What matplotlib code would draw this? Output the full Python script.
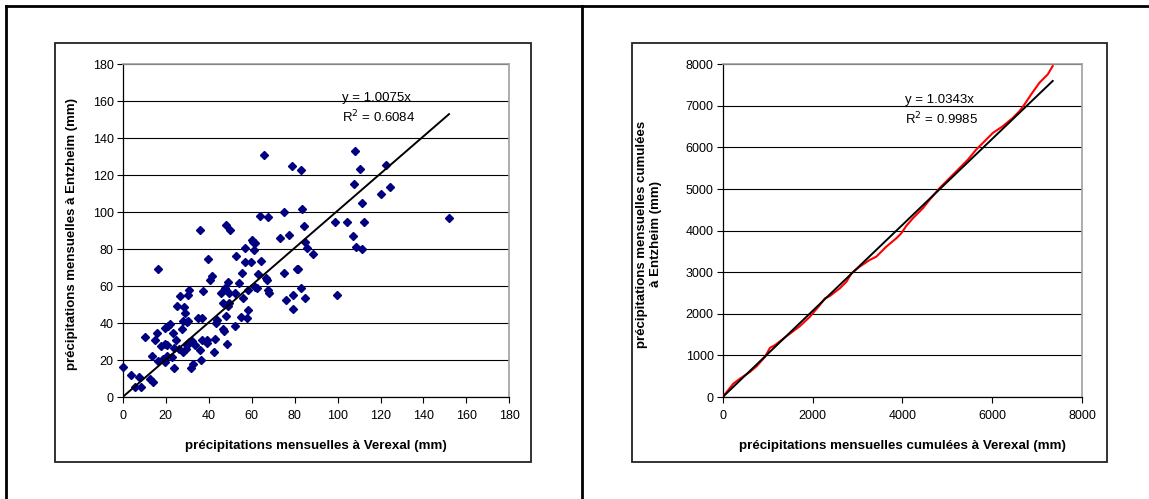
import matplotlib
matplotlib.use('Agg')
import matplotlib.pyplot as plt
import numpy as np
from matplotlib.patches import Rectangle
from matplotlib.lines import Line2D

plt.rcParams['font.family'] = ['Liberation Sans', 'DejaVu Sans']

# monthly precipitation (mm), Verexal vs Entzheim
verexal = [0, 3.7, 7.5, 5.9, 8.7, 10.5, 12.8, 13.9, 13.5, 15.1, 15.8, 16.2, 16.4, 17.8,
           18.9, 19.8, 19.9, 19.8, 20.7, 20.7, 21.9, 21.0, 22.8, 23.3, 23.7, 24.6, 23.9,
           25.3, 26.5, 26.0, 27.6, 28.5, 28.8, 27.9, 28.1, 29.4, 29.7, 30.8, 30.6, 30.6,
           30.1, 31.0, 31.7, 32.9, 32.4, 33.6, 35.8, 35.1, 36.3, 36.1, 37.2, 37.0, 37.0,
           39.2, 39.3, 39.5, 40.8, 41.5, 42.4, 43.1, 43.6, 44.1, 45.6, 46.6, 46.8, 47.0,
           47.4, 48.0, 48.0, 48.4, 48.8, 49.1, 49.5, 49.8, 49.5, 52.2, 52.9, 52.5, 54.1,
           55.2, 55.7, 55.9, 56.8, 57.1, 57.7, 58.2, 58.4, 59.6, 60.0, 60.5, 60.9, 61.6,
           61.4, 62.3, 62.8, 63.7, 64.3, 65.9, 66.6, 67.5, 67.3, 67.7, 68.2, 73.2, 75.0,
           75.3, 75.8, 77.3, 79.0, 79.2, 79.2, 81.0, 81.7, 82.8, 82.8, 83.3, 84.2, 84.9,
           84.9, 85.6, 88.7, 98.8, 99.9, 104.3, 107.2, 107.5, 108.1, 108.6, 110.4, 111.3,
           111.3, 112.3, 120.0, 122.5, 124.4, 151.9]
entzheim = [16, 12, 11, 5.5, 5.4, 32.5, 9.9, 8.1, 22.4, 31, 34.8, 69, 19.7, 27.8,
            20.8, 28.5, 37.6, 19, 28.3, 22.2, 39.4, 38.3, 21.8, 34.8, 15.9, 31, 26.4,
            49.1, 54.5, 26.2, 36.6, 48.6, 45.7, 41.2, 24.2, 26.2, 40.4, 58.1, 55.2, 41.2,
            28.3, 29.8, 15.9, 18.1, 30.3, 28, 90.6, 42.8, 20.2, 25.6, 57.6, 43, 31,
            29.2, 31, 74.6, 63.5, 65.7, 24.2, 31.6, 40.3, 41.9, 56, 50.9, 37, 35.6,
            58.9, 93.2, 43.7, 28.9, 62.3, 49.1, 56.1, 90.6, 50.9, 38.6, 76.2, 56, 61.9,
            43.1, 67.3, 53.3, 72.8, 80.5, 42.6, 46.8, 57.8, 73.3, 85.2, 83.9, 79.4, 83.4,
            59.6, 59.2, 66.3, 97.9, 73.8, 130.7, 64.5, 97.3, 63.2, 58.1, 56.5, 85.9, 67.2,
            100, 52.7, 87.9, 124.8, 55.4, 47.8, 69, 69, 122.8, 58.9, 101.6, 92.4, 53.8,
            83.6, 80.5, 77.6, 94.6, 55.4, 94.6, 87, 115.2, 133.1, 81.1, 123.3, 105.1,
            80, 94.6, 109.8, 125.5, 113.6, 96.8]
slope_monthly = 1.0075
r2_monthly = 0.6084

# cumulated precipitation (mm)
cum_verexal = [0, 237, 385, 607, 756, 941, 1052, 1163, 1422, 1719, 1941, 2163, 2274, 2385,
               2607, 2756, 2867, 3052, 3274, 3422, 3644, 3867, 3978, 4089, 4237, 4459,
               4607, 4830, 5052, 5274, 5459, 5644, 5793, 6015, 6237, 6459, 6607, 6719,
               6867, 7052, 7237, 7348]
cum_entzheim = [0, 322, 442, 603, 740, 965, 1182, 1246, 1463, 1704, 1929, 2211, 2371, 2428,
                2613, 2773, 2974, 3135, 3296, 3376, 3617, 3818, 3939, 4116, 4301, 4542,
                4743, 5024, 5265, 5506, 5707, 5949, 6109, 6350, 6511, 6712, 6873, 7034,
                7275, 7556, 7757, 7958]
slope_cum = 1.0343
r2_cum = 0.9985

W, H = 1149, 499
fig = plt.figure(figsize=(W / 100, H / 100), dpi=100)


def px_axes(x0, y0, x1, y1):
    return fig.add_axes([x0 / W, 1 - y1 / H, (x1 - x0) / W, (y1 - y0) / H])


def style(ax, xt, yt, lim):
    ax.set_xlim(0, lim)
    ax.set_ylim(0, lim)
    ax.set_xticks(xt)
    ax.set_yticks(yt)
    ax.yaxis.grid(True, color='black', lw=0.8)
    ax.set_axisbelow(True)
    for s in ['top', 'right']:
        ax.spines[s].set_color('#a0a0a0')
        ax.spines[s].set_linewidth(1.2)
    for s in ['left', 'bottom']:
        ax.spines[s].set_linewidth(0.9)
    ax.tick_params(direction='out', length=4, width=0.8, labelsize=9, pad=2.5)
    ax.tick_params(axis='x', pad=5.5)


# outer frame
fig.add_artist(Line2D([6 / W, 1], [1 - 6 / H, 1 - 6 / H], color='black', lw=2, transform=fig.transFigure))
fig.add_artist(Line2D([6 / W, 6 / W], [0, 1 - 6 / H], color='black', lw=2, transform=fig.transFigure))
fig.add_artist(Line2D([582 / W, 582 / W], [0, 1 - 6 / H], color='black', lw=2, transform=fig.transFigure))

# chart boxes
for x0, x1 in [(55, 531), (632, 1107)]:
    fig.add_artist(Rectangle((x0 / W, 1 - 462 / H), (x1 - x0) / W, (462 - 43) / H,
                             fill=False, ec='#222222', lw=1.3, transform=fig.transFigure))

# left chart
ax1 = px_axes(122.7, 64.3, 509.4, 397)
style(ax1, range(0, 181, 20), range(0, 181, 20), 180)
ax1.plot(verexal, entzheim, ls='none', marker='D', ms=4.0, color='#000080', clip_on=False, zorder=3)
xm = max(verexal)
ax1.plot([0, xm], [0, slope_monthly * xm], color='black', lw=1.4, zorder=4)
ax1.text(102, 161.5, 'y = %.4fx' % slope_monthly, fontsize=9.5, va='center', ha='left')
ax1.text(102, 151.5, 'R$^2$ = %.4f' % r2_monthly, fontsize=9.5, va='center', ha='left')
ax1.set_xlabel('précipitations mensuelles à Verexal (mm)', fontsize=9.6, fontweight='bold')
ax1.set_ylabel('précipitations mensuelles à Entzheim (mm)', fontsize=9.5, fontweight='bold')
ax1.xaxis.set_label_coords(0.5, (397 - 440) / 332.7)
ax1.yaxis.set_label_coords((78.5 - 122.7) / 386.7, 0.49)

# right chart
ax2 = px_axes(722.7, 64.3, 1082, 397)
style(ax2, range(0, 8001, 2000), range(0, 8001, 1000), 8000)
ax2.plot(cum_verexal, cum_entzheim, color='#ff0000', lw=1.5, zorder=3)
xc = max(cum_verexal)
ax2.plot([0, xc], [0, slope_cum * xc], color='black', lw=1.4, zorder=4)
ax2.text(4069, 7141, 'y = %.4fx' % slope_cum, fontsize=9.5, va='center', ha='left')
ax2.text(4069, 6684, 'R$^2$ = %.4f' % r2_cum, fontsize=9.5, va='center', ha='left')
ax2.set_xlabel('précipitations mensuelles cumulées à Verexal (mm)', fontsize=9.6, fontweight='bold')
ax2.set_ylabel('précipitations mensuelles cumulées\nà Entzheim (mm)', fontsize=9.5, fontweight='bold',
               linespacing=1.2)
ax2.xaxis.set_label_coords(0.5, (397 - 440) / 332.7)
ax2.yaxis.set_label_coords((662 - 722.7) / 359.3, 0.49)

fig.savefig('out.png', dpi=100)
